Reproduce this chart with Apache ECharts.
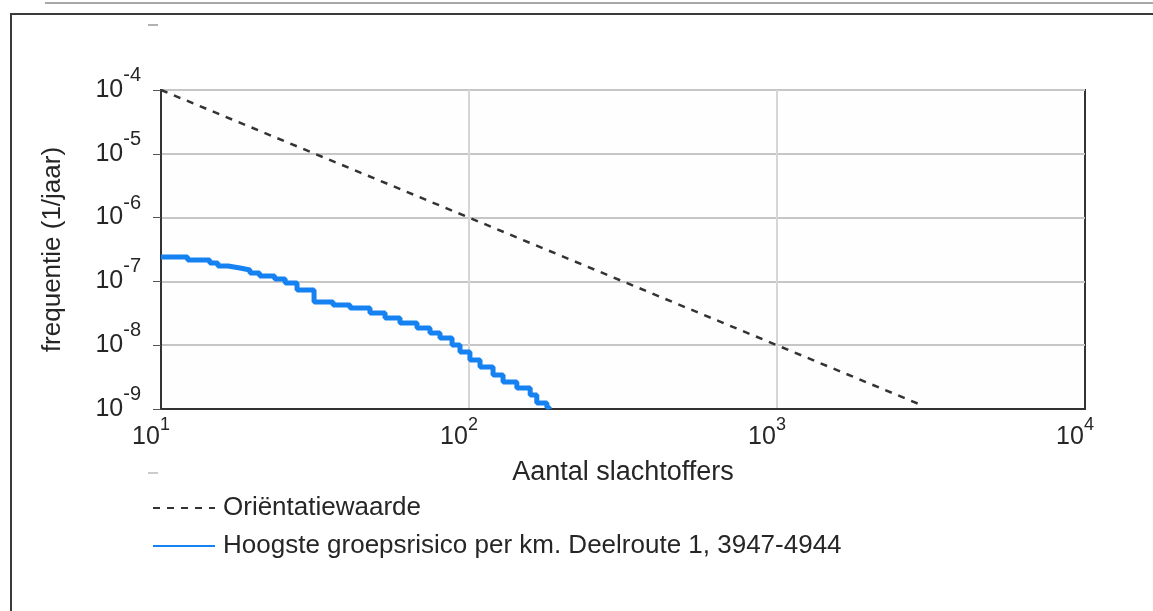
<!DOCTYPE html>
<html>
<head>
<meta charset="utf-8">
<script src="https://cdn.jsdelivr.net/npm/echarts@6/dist/echarts.min.js"></script>
<style>
  html, body { margin: 0; padding: 0; background: #ffffff; }
  #chart { width: 1153px; height: 611px; }
</style>
</head>
<body>
<div id="chart"></div>
<script>
// ---- data ----
const xTickExponents = [1, 2, 3, 4];          // 10^1 .. 10^4
const yTickExponents = [-9, -8, -7, -6, -5, -4];

const seriesNames = ['Oriëntatiewaarde', 'Hoogste groepsrisico per km. Deelroute 1, 3947-4944'];

// Orientation value (dashed line)
const orientN = [10, 3000];
const orientF = [1e-4, 1.11e-9];

// Highest group risk (stepped FN curve)
const riskN = [10, 12.2, 14.4, 15.3, 16.5, 18.05, 19.45, 20.9, 23.4, 25.3, 27.65, 31.4, 36.2, 41.1, 47.7,
               53.4, 59.7, 67.8, 74.7, 80.5, 88.1, 93.5, 100.7, 108.6, 119.7, 129, 143, 158, 166, 179, 182];
const riskF = [2.41e-7, 2.16e-7, 1.94e-7, 1.74e-7, 1.62e-7, 1.51e-7, 1.36e-7, 1.22e-7, 1.09e-7, 9.45e-8,
               7.33e-8, 4.75e-8, 4.26e-8, 3.83e-8, 3.2e-8, 2.67e-8, 2.23e-8, 1.86e-8, 1.55e-8, 1.30e-8,
               1.01e-8, 7.82e-9, 5.86e-9, 4.55e-9, 3.41e-9, 2.65e-9, 2.13e-9, 1.66e-9, 1.24e-9, 1.07e-9, 1.0e-9];

const xTitle = 'Aantal slachtoffers';
const yTitle = 'frequentie (1/jaar)';

// ---- chart ----
const FONT = "'Liberation Sans', Arial, sans-serif";
const TXT = '#262626';

const pairs = (xs, ys) => xs.map((x, i) => [x, ys[i]]);
const expOf = v => Math.round(Math.log10(v));

const chart = echarts.init(document.getElementById('chart'), null, { renderer: 'canvas' });

const option = {
  backgroundColor: '#ffffff',
  animation: false,
  textStyle: { fontFamily: FONT, color: TXT },
  grid: {
    left: 161, right: 68, top: 90, bottom: 202,
    show: true, borderColor: '#333333', borderWidth: 2, backgroundColor: '#fdfefd'
  },
  legend: {
    orient: 'vertical',
    left: 152, top: 495,
    itemWidth: 62, itemHeight: 26, itemGap: 12,
    padding: 0,
    itemStyle: { color: 'rgba(0,0,0,0)', borderWidth: 0 },
    textStyle: { fontFamily: FONT, fontSize: 26, color: TXT, lineHeight: 26, padding: [0, 0, 0, 3] },
    data: seriesNames
  },
  xAxis: {
    type: 'log', logBase: 10,
    min: Math.pow(10, xTickExponents[0]),
    max: Math.pow(10, xTickExponents[xTickExponents.length - 1]),
    name: xTitle, nameLocation: 'middle', nameGap: 50,
    nameTextStyle: { fontFamily: FONT, fontSize: 27, color: TXT },
    axisLine: { show: true, lineStyle: { color: '#333333', width: 2 } },
    axisTick: { show: false },
    splitLine: { show: true, showMinLine: false, showMaxLine: false, lineStyle: { color: '#d6d6d6', width: 2 } },
    minorTick: { show: false },
    axisLabel: {
      margin: 7,
      padding: [0, 20, 0, 0],
      formatter: v => (xTickExponents.indexOf(expOf(v)) >= 0 ? '{b|10}{e|' + expOf(v) + '}' : ''),
      rich: {
        b: { fontFamily: FONT, fontSize: 25, lineHeight: 42, color: TXT, verticalAlign: 'middle' },
        e: { fontFamily: FONT, fontSize: 18, lineHeight: 18, color: TXT, verticalAlign: 'top' }
      }
    }
  },
  yAxis: {
    type: 'log', logBase: 10,
    min: Math.pow(10, yTickExponents[0]),
    max: Math.pow(10, yTickExponents[yTickExponents.length - 1]),
    name: yTitle, nameLocation: 'middle', nameGap: 95, nameRotate: 90,
    nameTextStyle: { fontFamily: FONT, fontSize: 26, color: TXT },
    axisLine: { show: true, lineStyle: { color: '#333333', width: 2 } },
    axisTick: { show: true, inside: false, length: 8, lineStyle: { color: '#555555', width: 1 } },
    splitLine: { show: true, showMinLine: false, showMaxLine: false, lineStyle: { color: '#c6c6c6', width: 2 } },
    axisLabel: {
      margin: 20,
      formatter: v => (yTickExponents.indexOf(expOf(v)) >= 0 ? '{b|10}{e|' + expOf(v) + '}' : ''),
      rich: {
        b: { fontFamily: FONT, fontSize: 25, lineHeight: 49, color: TXT, verticalAlign: 'middle' },
        e: { fontFamily: FONT, fontSize: 20, lineHeight: 20, color: TXT, verticalAlign: 'top' }
      }
    }
  },
  series: [
    {
      name: seriesNames[0],
      type: 'line',
      data: pairs(orientN, orientF),
      symbol: 'none',
      lineStyle: { color: '#333333', width: 2.5, type: [7, 7] },
      itemStyle: { color: '#333333' },
      z: 3
    },
    {
      name: seriesNames[1],
      type: 'line',
      step: 'end',
      data: pairs(riskN, riskF),
      symbol: 'none',
      lineStyle: { color: '#1682f2', width: 5 },
      itemStyle: { color: '#1682f2' },
      z: 4
    }
  ],
  graphic: [
    { type: 'line', shape: { x1: 45, y1: 3, x2: 1153, y2: 3 }, style: { stroke: '#a8a8a8', lineWidth: 2 } },
    { type: 'line', shape: { x1: 10, y1: 14, x2: 1153, y2: 14 }, style: { stroke: '#3a3a3a', lineWidth: 2 } },
    { type: 'line', shape: { x1: 11, y1: 14, x2: 11, y2: 611 }, style: { stroke: '#3a3a3a', lineWidth: 2 } },
    { type: 'line', shape: { x1: 148, y1: 25, x2: 158, y2: 25 }, style: { stroke: '#999999', lineWidth: 1.5 } },
    { type: 'line', shape: { x1: 148, y1: 473, x2: 158, y2: 473 }, style: { stroke: '#bbbbbb', lineWidth: 1.5 } }
  ]
};

chart.setOption(option);
</script>
</body>
</html>
